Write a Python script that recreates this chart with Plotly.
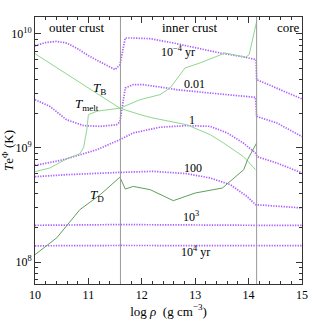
import plotly.graph_objects as go

# ---- data (log10 rho, log10 T) ----
x_1em4 = [10.0, 10.2, 10.4, 10.6, 10.8, 11.0, 11.2, 11.4, 11.5, 11.59, 11.69, 11.8, 12.16, 12.6, 13.0, 13.47, 13.9, 14.14, 14.15, 14.4, 14.7, 15.0]
y_1em4 = [9.897, 9.925, 9.935, 9.92, 9.87, 9.81, 9.76, 9.71, 9.687, 9.73, 9.965, 9.965, 9.959, 9.92, 9.88, 9.833, 9.80, 9.775, 9.60, 9.55, 9.49, 9.43]

x_001 = [10.0, 10.28, 10.59, 10.91, 11.22, 11.53, 11.59, 11.69, 11.84, 12.03, 12.34, 12.66, 13.28, 13.9, 14.13, 14.15, 14.53, 15.0]
y_001 = [9.424, 9.365, 9.248, 9.196, 9.19, 9.204, 9.23, 9.526, 9.555, 9.555, 9.535, 9.511, 9.482, 9.453, 9.444, 9.277, 9.219, 9.10]

x_1 = [10.0, 10.53, 11.16, 11.59, 11.84, 12.34, 12.84, 13.28, 13.6, 13.9, 14.13, 14.16, 14.53, 15.0]
y_1 = [8.847, 8.897, 8.985, 9.073, 9.132, 9.182, 9.196, 9.19, 9.132, 9.044, 8.956, 8.924, 8.868, 8.781]

x_100 = [10.0, 10.59, 11.59, 12.21, 12.84, 13.28, 13.66, 13.97, 14.13, 14.5, 15.0]
y_100 = [8.748, 8.766, 8.786, 8.795, 8.775, 8.737, 8.678, 8.575, 8.503, 8.49, 8.474]

x_1e3 = [10.0, 11.6, 14.1, 15.0]
y_1e3 = [8.322, 8.328, 8.322, 8.322]

x_1e4 = [10.0, 11.6, 14.1, 15.0]
y_1e4 = [8.142, 8.145, 8.143, 8.143]

x_TB = [10.0, 11.59, 11.97, 12.21, 12.84, 13.28, 13.53, 13.9, 14.13]
y_TB = [9.827, 9.349, 9.292, 9.263, 9.204, 9.117, 9.044, 8.926, 8.81]

x_Tmelt = [10.0, 10.28, 10.59, 10.84, 10.91, 10.97, 11.0, 11.16, 11.59, 11.84, 11.97, 12.34, 12.53, 12.81, 13.09, 13.56, 13.94, 14.01, 14.15]
y_Tmelt = [8.792, 8.825, 8.904, 8.95, 9.003, 9.16, 9.292, 9.323, 9.349, 9.395, 9.424, 9.468, 9.526, 9.702, 9.746, 9.833, 9.796, 9.818, 10.108]

x_TD = [10.0, 10.41, 10.84, 11.22, 11.59, 11.69, 11.84, 12.16, 12.59, 13.0, 13.51, 13.91, 13.98, 14.15]
y_TD = [8.064, 8.213, 8.459, 8.59, 8.744, 8.64, 8.663, 8.634, 8.538, 8.605, 8.649, 8.81, 8.897, 9.044]

boundaries = [11.6, 14.15]

PURPLE = "#ad5cff"
LGREEN = "#8fd68f"
DGREEN = "#5f9f5f"
FONT = "Liberation Serif"

fig = go.Figure()
for xs, ys in [(x_1em4, y_1em4), (x_001, y_001), (x_1, y_1), (x_100, y_100), (x_1e3, y_1e3), (x_1e4, y_1e4)]:
    fig.add_trace(go.Scatter(x=xs, y=[10 ** v for v in ys], mode="lines",
                             line=dict(color=PURPLE, width=1.7, dash="1.3px,1.3px")))
fig.add_trace(go.Scatter(x=x_TB, y=[10 ** v for v in y_TB], mode="lines", line=dict(color=LGREEN, width=1)))
fig.add_trace(go.Scatter(x=x_Tmelt, y=[10 ** v for v in y_Tmelt], mode="lines", line=dict(color=LGREEN, width=1)))
fig.add_trace(go.Scatter(x=x_TD, y=[10 ** v for v in y_TD], mode="lines", line=dict(color=DGREEN, width=1)))

for b in boundaries:
    fig.add_shape(type="line", x0=b, x1=b, y0=0, y1=1, yref="paper", xref="x",
                  line=dict(color="#999999", width=1))

def ann(x, y, text, size=12):
    fig.add_annotation(x=x, y=y, text=text, showarrow=False, xref="x", yref="y",
                       font=dict(family=FONT, size=size, color="black"))

ann(10.79, 10.055, "outer crust", 13)
ann(12.91, 10.055, "inner crust", 13)
ann(14.74, 10.055, "core", 13)
ann(12.68, 9.845, "10<sup>−4</sup> yr", 12)
ann(12.98, 9.564, "0.01", 12)
ann(12.94, 9.248, "1", 12)
ann(12.96, 8.827, "100", 12)
ann(12.93, 8.397, "10<sup>3</sup>", 12)
ann(13.0, 8.09, "10<sup>4</sup> yr", 12)
ann(11.2, 9.52, "<i>T</i><sub>B</sub>", 13)
ann(10.98, 9.38, "<i>T</i><sub>melt</sub>", 13)
ann(11.16, 8.58, "<i>T</i><sub>D</sub>", 13)

fig.update_layout(
    width=319, height=319,
    margin=dict(l=35, r=17, t=17, b=35, autoexpand=False),
    paper_bgcolor="white", plot_bgcolor="white",
    showlegend=False,
    font=dict(family=FONT, size=12, color="black"),
)
fig.update_xaxes(range=[10, 15], tickvals=[10, 11, 12, 13, 14, 15], automargin=False,
                 ticks="inside", ticklen=6, tickcolor="#333", linecolor="#333", linewidth=1,
                 mirror="allticks", showgrid=False, zeroline=False,
                 minor=dict(ticks="inside", ticklen=3, dtick=0.2, tickcolor="#333", showgrid=False),
                 title=dict(text="log <i>ρ</i>  (g cm<sup>−3</sup>)", standoff=4, font=dict(size=13)),
                 tickfont=dict(size=12))
minor_y = [m * 10 ** e for e in (7, 8, 9) for m in range(2, 10)]
fig.update_yaxes(type="log", range=[7.807, 10.149], automargin=False,
                 tickvals=[1e8, 1e9, 1e10], ticktext=["10<sup>8</sup>", "10<sup>9</sup>", "10<sup>10</sup>"],
                 ticks="inside", ticklen=6, tickcolor="#333", linecolor="#333", linewidth=1,
                 mirror="allticks", showgrid=False, zeroline=False,
                 minor=dict(ticks="inside", ticklen=3, tickvals=minor_y, tickcolor="#333", showgrid=False),
                 title=dict(text="<i>T</i>e<sup>Φ</sup> (K)", standoff=0, font=dict(size=13)),
                 tickfont=dict(size=12))

fig.write_html("out.html", config={"displayModeBar": False},
               post_script="document.body.style.margin='0';")
